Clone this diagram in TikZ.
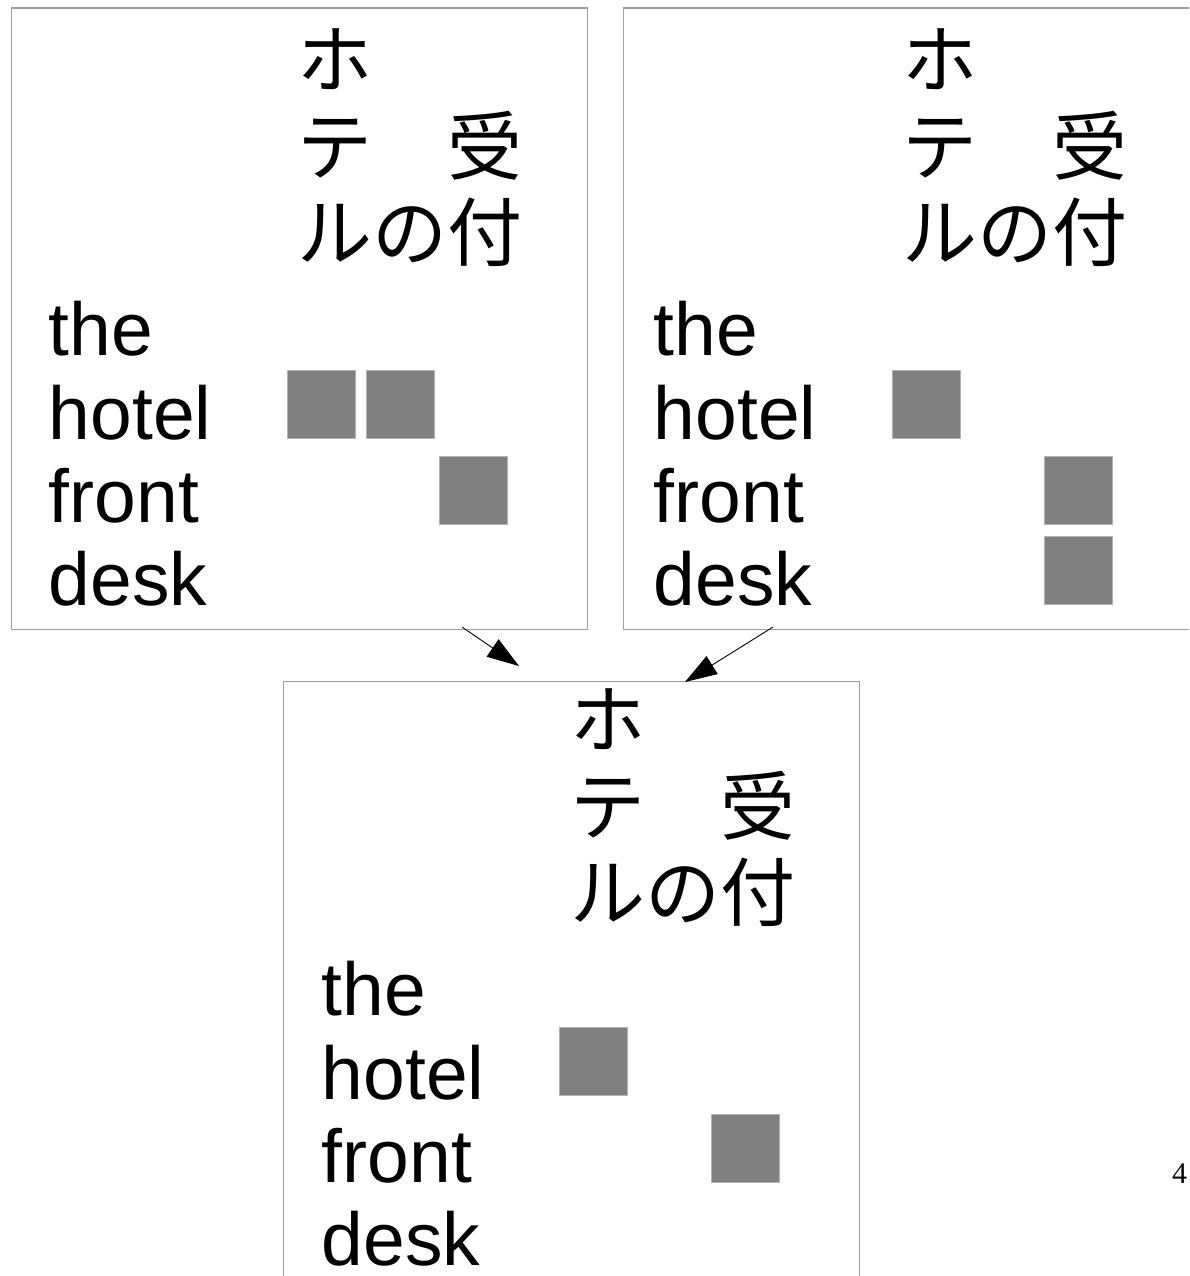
\documentclass[tikz,border=0pt]{standalone}
\usepackage{fontspec}
\setmainfont{Liberation Sans}
\newfontfamily\cjkfont{Noto Sans CJK JP}
\newfontfamily\pagefont{Liberation Serif}
\usetikzlibrary{arrows.meta}
\definecolor{framegray}{HTML}{A0A0A0}
\definecolor{blockgray}{HTML}{808080}

% text contents of one panel (prefix #1 for node names)
\newcommand{\panelwords}[1]{%
  \node[lat] (#1the)   at (48.6,355) {the};
  \node[lat] (#1hotel) at (48.6,439) {hotel};
  \node[lat] (#1front) at (48.6,522) {front};
  \node[lat] (#1desk)  at (48.6,605) {desk};
  \node[jp] (#1ho) at (335,59)  {ホ};
  \node[jp] (#1te) at (335,146) {テ};
  \node[jp] (#1uke) at (485,146) {受};
  \node[jp] (#1ru) at (335,232) {ル};
  \node[jp] (#1no) at (410,232) {の};
  \node[jp] (#1tsuke) at (485,232) {付};
}

\begin{document}
\begin{tikzpicture}[x=1pt,y=-1pt,
  lat/.style={anchor=base west, inner sep=0pt, font=\fontsize{75}{83}\selectfont},
  jp/.style={inner sep=0pt, text height=66pt, text depth=9pt, font=\cjkfont\fontsize{75}{83}\selectfont},
  panel/.style={draw=framegray, line width=1.3pt, fill=none, inner sep=0pt, anchor=north west,
                minimum width=576pt, minimum height=621.5pt},
  blk/.style={fill=blockgray, draw=blockgray!60, line width=0.5pt, inner sep=0pt, anchor=north west, minimum size=68pt},
  arr/.style={line width=0.9pt, -{Triangle[length=32pt,width=21pt]}}]
\fill[white] (0,0) rectangle (1189,1276);
\useasboundingbox (0,0) rectangle (1189,1276);
\begin{scope}
\clip (0,0) rectangle (1189,1276);

% panels
\node[panel] (p1) at (11,7.5) {};
\node[panel] (p2) at (623,7.5) {};
\node[panel] (p3) at (282.5,681) {};

% panel 1 contents
\panelwords{a}
\node[blk] (a1) at (287,370) {};
\node[blk] (a2) at (366,370) {};
\node[blk] (a3) at (439,456) {};

% panel 2 contents
\begin{scope}[shift={(605,0)}]
\panelwords{b}
\end{scope}
\node[blk] (b1) at (892,370) {};
\node[blk] (b2) at (1043.5,456) {};
\node[blk] (b3) at (1043.5,535.5) {};

% panel 3 contents
\begin{scope}[shift={(273,660)}]
\panelwords{c}
\end{scope}
\node[blk] (c1) at (559,1027) {};
\node[blk] (c2) at (711,1114) {};

% connectors
\coordinate (s1) at (462,627);
\coordinate (e1) at (519,666);
\coordinate (s2) at (773,627);
\coordinate (e2) at (685,682);
\draw[arr] (s1) -- (e1);
\draw[arr] (s2) -- (e2);

% page number
\node[anchor=base west, inner sep=0pt, font=\pagefont\fontsize{30}{32}\selectfont] (pg) at (1172,1183) {4};
\end{scope}
\end{tikzpicture}
\end{document}
